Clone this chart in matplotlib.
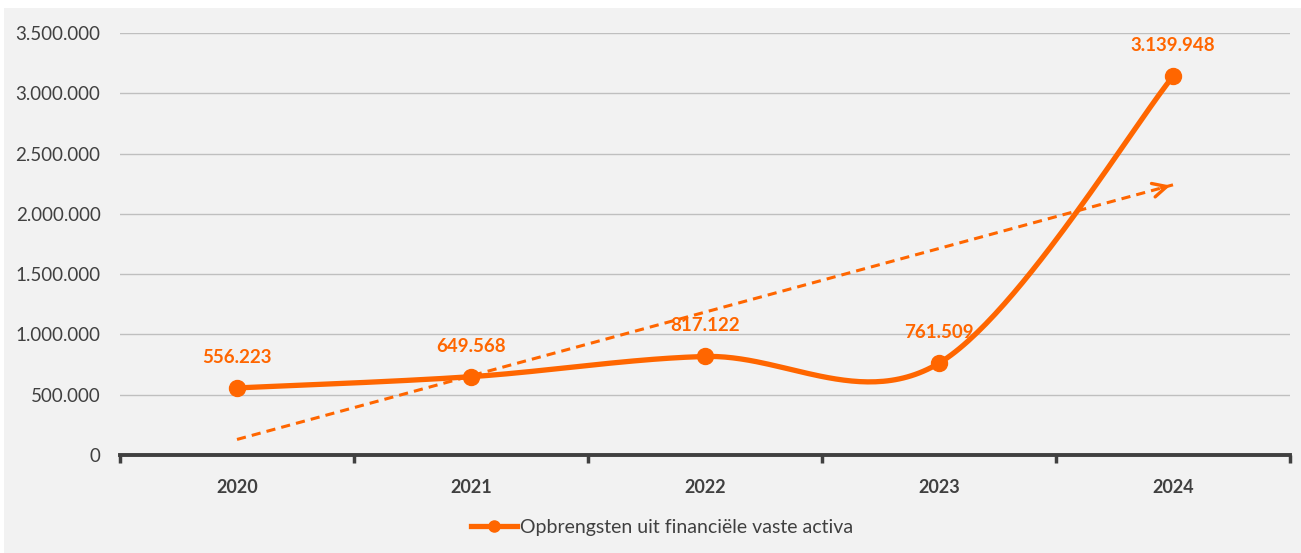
import numpy as np
import matplotlib
matplotlib.use("Agg")
import matplotlib.pyplot as plt
from matplotlib.patches import Rectangle

categories = ["2020", "2021", "2022", "2023", "2024"]
values = [556223, 649568, 817122, 761509, 3139948]
value_labels = ["556.223", "649.568", "817.122", "761.509", "3.139.948"]
series_name = "Opbrengsten uit financiële vaste activa"
yticks = [0, 500000, 1000000, 1500000, 2000000, 2500000, 3000000, 3500000]
ytick_labels = ["0", "500.000", "1.000.000", "1.500.000", "2.000.000",
                "2.500.000", "3.000.000", "3.500.000"]

ORANGE = "#FF6600"
TEXT = "#404040"
BG = "#F2F2F2"

plt.rcParams['font.family'] = ['Lato', 'DejaVu Sans']

fig = plt.figure(figsize=(13.01, 5.53), dpi=100)
fig.patch.set_facecolor("white")
fig.patches.append(Rectangle((4/1301, 0), 1 - 4/1301, 1 - 8/553,
                             transform=fig.transFigure, facecolor=BG,
                             edgecolor="none", zorder=-10))

ax = fig.add_axes([120/1301, 1 - 455/553, 1170/1301, (455 - 33)/553])
ax.set_facecolor("none")

x = np.arange(len(values))
y = np.array(values, dtype=float)

# smoothed line (Catmull-Rom style Bezier, like spreadsheet smoothing)
def smooth(xs, ys, n=60):
    px, py = [], []
    N = len(xs)
    for i in range(N - 1):
        x0, y0 = xs[i], ys[i]
        x3, y3 = xs[i + 1], ys[i + 1]
        xm = xs[i - 1] if i > 0 else x0
        ym = ys[i - 1] if i > 0 else y0
        xp = xs[i + 2] if i + 2 < N else x3
        yp = ys[i + 2] if i + 2 < N else y3
        x1 = x0 + (x3 - xm) / 6
        y1 = y0 + (y3 - ym) / 6
        x2 = x3 - (xp - x0) / 6
        y2 = y3 - (yp - y0) / 6
        t = np.linspace(0, 1, n)
        bx = (1-t)**3*x0 + 3*(1-t)**2*t*x1 + 3*(1-t)*t**2*x2 + t**3*x3
        by = (1-t)**3*y0 + 3*(1-t)**2*t*y1 + 3*(1-t)*t**2*y2 + t**3*y3
        px.extend(bx); py.extend(by)
    return np.array(px), np.array(py)

sx, sy = smooth(x.astype(float), y)
ax.plot(sx, sy, color=ORANGE, lw=3.8, solid_capstyle="round", zorder=4)
ax.plot(x, y, "o", color=ORANGE, ms=11.5, zorder=5)

# linear trendline with arrow
coef = np.polyfit(x, y, 1)
tx = np.array([x[0], x[-1]], dtype=float)
ty = np.polyval(coef, tx)
ax.plot(tx, ty, color=ORANGE, lw=2.2, ls=(0, (3, 2)), zorder=3)
ax.annotate("", xy=(tx[1], ty[1]), xytext=(tx[1] - 0.06, ty[1] - 0.06 * coef[0]),
            arrowprops=dict(arrowstyle="->,head_length=1.0,head_width=0.5",
                            color=ORANGE, lw=2.4), zorder=3)

for xi, yi, lab in zip(x, y, value_labels):
    ax.annotate(lab, (xi, yi), xytext=(0, 22), textcoords="offset points",
                ha="center", va="center", color=ORANGE, fontsize=13.5,
                fontweight="bold", zorder=6)

ax.set_xlim(-0.5, len(values) - 0.5)
ax.set_ylim(0, 3500000)
ax.set_yticks(yticks)
ax.set_yticklabels(ytick_labels, fontsize=13.5, color=TEXT)
ax.tick_params(axis="y", length=0, pad=14)
ax.yaxis.grid(True, color="#BFBFBF", lw=1)
ax.set_axisbelow(True)

ax.set_xticks(np.arange(-0.5, len(values)), minor=False)
ax.set_xticklabels([])
ax.set_xticks(x, minor=True)
ax.set_xticklabels(categories, minor=True, fontsize=13, fontweight="bold", color=TEXT)
ax.tick_params(axis="x", which="major", length=6, width=2.5, color=TEXT, direction="out")
ax.tick_params(axis="x", which="minor", length=0, pad=17)

for s in ["left", "right", "top"]:
    ax.spines[s].set_visible(False)
ax.spines["bottom"].set_color(TEXT)
ax.spines["bottom"].set_linewidth(2.8)
ax.spines["bottom"].set_zorder(6)

handle = plt.Line2D([], [], color=ORANGE, lw=3.8, marker="o", ms=8)
leg = fig.legend([handle], [series_name], loc="center",
                 bbox_to_anchor=(662/1301, 1 - 527/553), frameon=False,
                 fontsize=14, handlelength=2.4, handletextpad=0.15)
for t in leg.get_texts():
    t.set_color(TEXT)

fig.savefig("out.png", dpi=100, facecolor=fig.get_facecolor())
